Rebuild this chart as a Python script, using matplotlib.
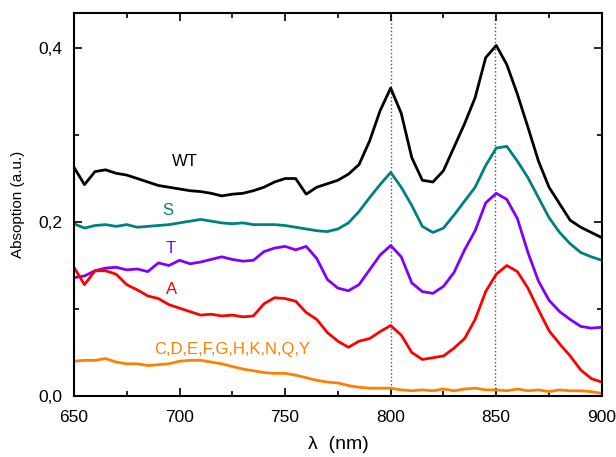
import numpy as np
import matplotlib
matplotlib.use('Agg')
import matplotlib.pyplot as plt
from matplotlib.ticker import MultipleLocator, FuncFormatter

plt.rcParams['font.family'] = ['Liberation Sans', 'DejaVu Sans']

wl = np.arange(650, 901, 5)

wt = [0.263, 0.243, 0.258, 0.260, 0.256, 0.254, 0.250, 0.246, 0.242, 0.240,
      0.238, 0.236, 0.235, 0.233, 0.230, 0.232, 0.233, 0.236, 0.240, 0.246,
      0.250, 0.250, 0.232, 0.240, 0.244, 0.248, 0.255, 0.266, 0.293, 0.328,
      0.354, 0.325, 0.274, 0.248, 0.246, 0.259, 0.286, 0.313, 0.343, 0.389,
      0.403, 0.381, 0.347, 0.309, 0.270, 0.240, 0.221, 0.202, 0.194, 0.188,
      0.182]
s = [0.198, 0.193, 0.196, 0.197, 0.195, 0.197, 0.194, 0.195, 0.196, 0.197,
     0.199, 0.201, 0.203, 0.201, 0.199, 0.198, 0.199, 0.197, 0.197, 0.197,
     0.196, 0.194, 0.192, 0.190, 0.189, 0.192, 0.199, 0.212, 0.228, 0.243,
     0.257, 0.240, 0.219, 0.195, 0.188, 0.193, 0.208, 0.224, 0.240, 0.265,
     0.285, 0.287, 0.270, 0.251, 0.228, 0.205, 0.188, 0.175, 0.165, 0.160,
     0.156]
t = [0.136, 0.138, 0.144, 0.147, 0.148, 0.145, 0.146, 0.143, 0.153, 0.150,
     0.156, 0.152, 0.154, 0.157, 0.160, 0.157, 0.155, 0.156, 0.166, 0.170,
     0.172, 0.168, 0.172, 0.158, 0.134, 0.124, 0.121, 0.128, 0.145, 0.162,
     0.173, 0.160, 0.130, 0.120, 0.118, 0.126, 0.142, 0.168, 0.190, 0.222,
     0.233, 0.226, 0.204, 0.165, 0.132, 0.110, 0.097, 0.088, 0.080, 0.078,
     0.079]
a = [0.148, 0.128, 0.144, 0.144, 0.140, 0.128, 0.122, 0.115, 0.112, 0.105,
     0.101, 0.097, 0.093, 0.094, 0.092, 0.093, 0.091, 0.092, 0.106, 0.113,
     0.112, 0.109, 0.096, 0.088, 0.073, 0.063, 0.056, 0.063, 0.066, 0.074,
     0.081, 0.070, 0.050, 0.042, 0.044, 0.046, 0.055, 0.066, 0.088, 0.120,
     0.140, 0.150, 0.143, 0.124, 0.099, 0.075, 0.060, 0.046, 0.030, 0.020,
     0.016]
rest = [0.040, 0.041, 0.041, 0.043, 0.039, 0.037, 0.037, 0.035, 0.036, 0.037,
        0.040, 0.041, 0.041, 0.039, 0.037, 0.034, 0.031, 0.029, 0.027, 0.026,
        0.026, 0.024, 0.021, 0.018, 0.016, 0.015, 0.012, 0.010, 0.009, 0.009,
        0.009, 0.007, 0.006, 0.007, 0.006, 0.008, 0.006, 0.008, 0.009, 0.007,
        0.007, 0.006, 0.008, 0.006, 0.007, 0.005, 0.007, 0.006, 0.006, 0.005,
        0.003]

series = [('WT', wt, 'black'), ('S', s, '#008080'), ('T', t, '#8000FF'),
          ('A', a, '#FF0000'), ('C,D,E,F,G,H,K,N,Q,Y', rest, '#FF8000')]
label_pos = [(696.5, 0.270), (692, 0.213), (693.5, 0.170), (693.5, 0.122), (688, 0.053)]
peaks = [800, 849.5]

fig = plt.figure(figsize=(6.16, 4.57), dpi=100)
ax = fig.add_axes([0.120, 0.1335, 0.857, 0.8375])

for xp in peaks:
    ax.axvline(xp, color='#555555', linestyle=':', linewidth=1.0, zorder=1)

for (name, vals, col), (lx, ly) in zip(series, label_pos):
    ax.plot(wl, vals, color=col, linewidth=2, zorder=2)
    ax.text(lx, ly, name, color=col, fontsize=12, ha='left', va='center')

ax.set_xlim(650, 900)
ax.set_ylim(0, 0.44)
ax.xaxis.set_major_locator(MultipleLocator(50))
ax.xaxis.set_minor_locator(MultipleLocator(25))
ax.yaxis.set_major_locator(MultipleLocator(0.2))
ax.yaxis.set_minor_locator(MultipleLocator(0.1))
ax.yaxis.set_major_formatter(FuncFormatter(lambda v, p: ('%.1f' % v).replace('.', ',')))
ax.tick_params(which='both', direction='in', top=True, right=True, labelsize=12.5, width=1.2)
ax.tick_params(which='major', length=6)
ax.tick_params(which='minor', length=3.5)
ax.tick_params(axis='x', which='major', pad=10)
ax.tick_params(axis='y', which='major', pad=8)
for sp in ax.spines.values():
    sp.set_linewidth(1.5)

ax.set_xlabel('λ  (nm)', fontsize=14, labelpad=8)
ax.set_ylabel('Absoption (a.u.)', fontsize=11, labelpad=10)

fig.savefig('out.png', dpi=100)
